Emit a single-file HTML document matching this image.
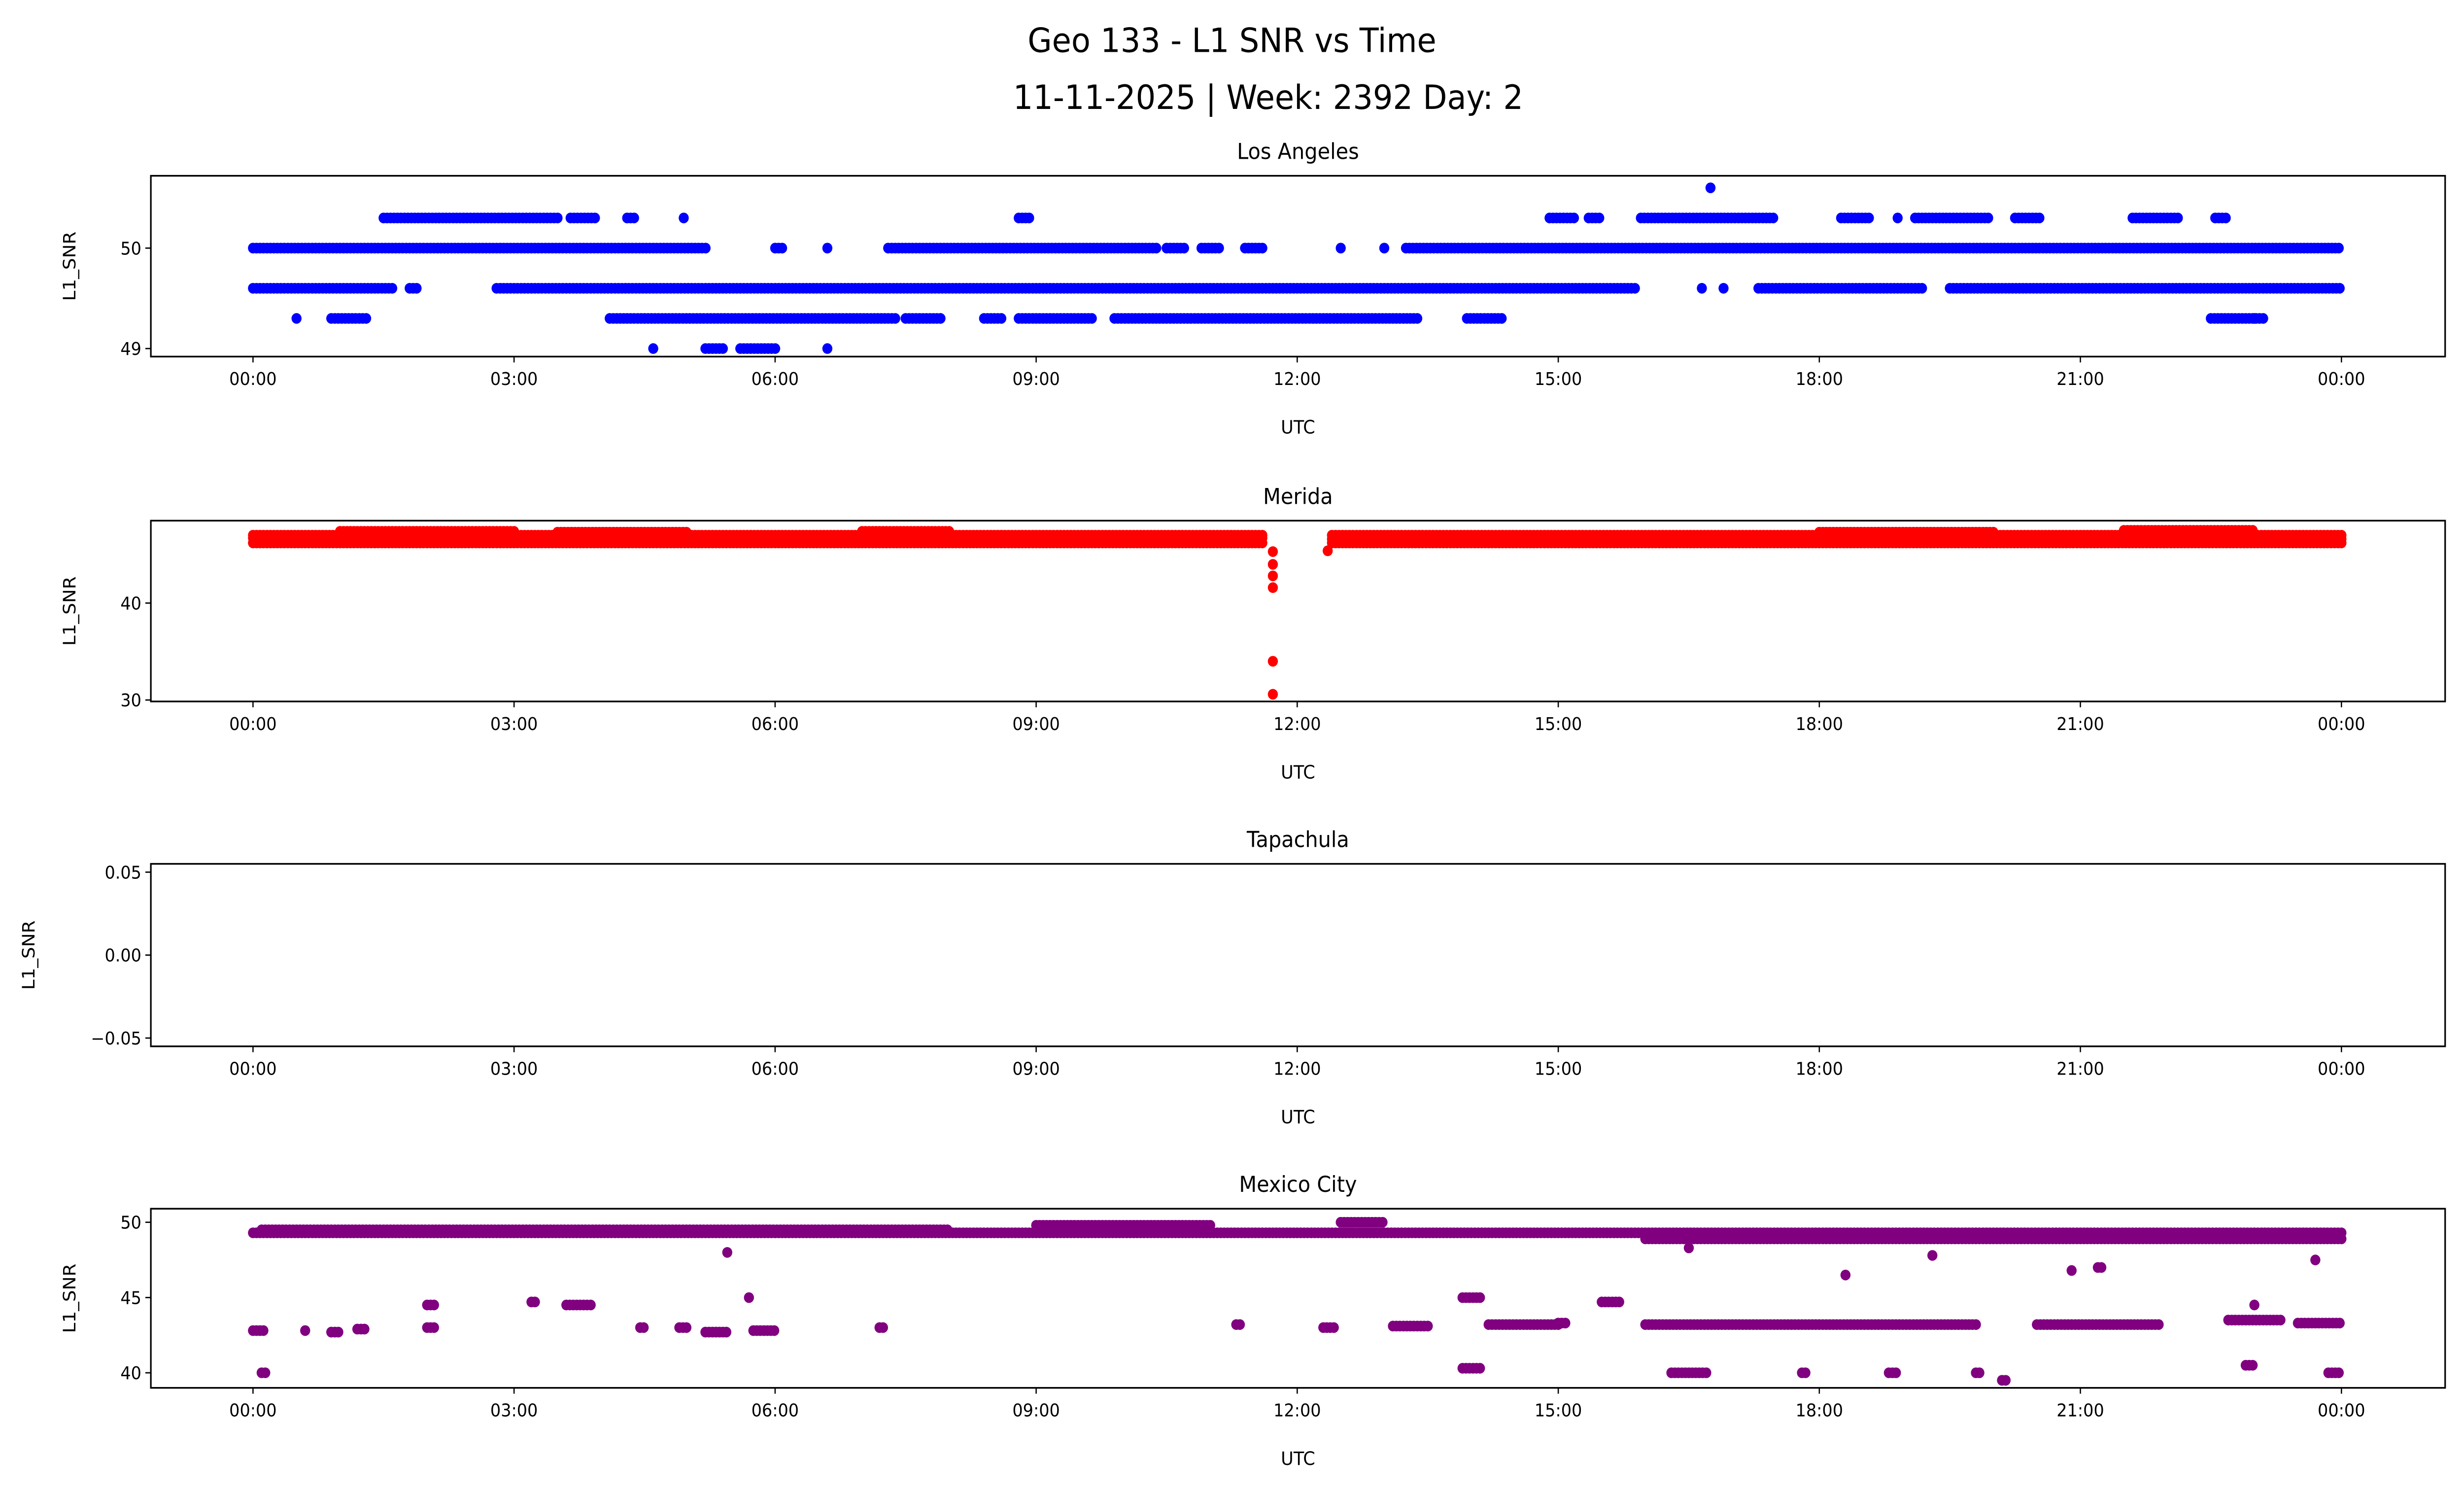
<!DOCTYPE html>
<html><head><meta charset="utf-8"><style>html,body{margin:0;padding:0;background:#fff;overflow:hidden;width:100vw;height:100vh}svg{display:block;width:100vw;height:100vh}text{font-family:"DejaVu Sans","Liberation Sans",sans-serif}</style></head>
<body>
<svg id="fig" xmlns="http://www.w3.org/2000/svg" viewBox="0 0 1568 893" preserveAspectRatio="none">
<rect width="1568" height="893" fill="#fff"/>
<text x="784" y="31" font-size="20" text-anchor="middle">Geo 133 - L1 SNR vs Time</text>
<text x="807" y="65" font-size="20" text-anchor="middle">11-11-2025 | Week: 2392 Day: 2</text>
<g id="plots"></g>
</svg>
<script>
// ---- data (hours UTC, SNR) ----
const xTickLabels = ["00:00","03:00","06:00","09:00","12:00","15:00","18:00","21:00","00:00"];
const xTickHours = [0,3,6,9,12,15,18,21,24];
// Los Angeles runs: start hour, end hour, value
const laStart = [0,6.0,6.6,7.3,10.5,10.9,11.4,12.5,13.0,13.25, 0,1.8,2.8,16.65,16.9,17.3,19.5, 1.5,3.65,4.3,4.95,8.8,14.9,15.35,15.95,18.25,18.9,19.1,20.25,21.6,22.55, 0.5,0.9,4.1,7.5,8.4,8.8,9.9,13.95,22.5,23.0, 4.6,5.2,5.6,6.6, 16.75];
const laEnd   = [5.2,6.1,6.6,10.4,10.7,11.1,11.6,12.5,13.0,24, 1.6,1.9,15.9,16.65,16.9,19.2,24, 3.5,3.95,4.4,4.95,8.95,15.2,15.5,17.5,18.6,18.9,19.95,20.55,22.15,22.7, 0.5,1.3,7.4,7.9,8.6,9.65,13.4,14.35,23.1,23.0, 4.6,5.4,6.0,6.6, 16.75];
const laValue = [50,50,50,50,50,50,50,50,50,50, 49.6,49.6,49.6,49.6,49.6,49.6,49.6, 50.3,50.3,50.3,50.3,50.3,50.3,50.3,50.3,50.3,50.3,50.3,50.3,50.3,50.3, 49.3,49.3,49.3,49.3,49.3,49.3,49.3,49.3,49.3,49.3, 49.0,49.0,49.0,49.0, 50.6];
// Merida runs
const meStart = [0,0,0,1.0,3.5,7.0,12.4,12.4,12.4,18,21.5, 11.72,11.72,11.72,11.72,11.72,11.72, 12.35];
const meEnd   = [11.6,11.6,11.6,3.0,5.0,8.0,24,24,24,20,23.0, 11.72,11.72,11.72,11.72,11.72,11.72, 12.35];
const meValue = [46.2,46.7,47.0,47.4,47.3,47.4,46.2,46.6,47.0,47.3,47.5, 45.3,44.0,42.8,41.6,34.0,30.6, 45.4];
// Tapachula: no data
const tpStart = [], tpEnd = [], tpValue = [];
// Mexico City runs
const mxStart = [0,9.0,16.0,0.1,12.5, 0,0.1,0.6,0.9,1.2,2.0,2.0,3.2,3.6,4.45,4.9,5.2,5.45,5.7,5.75,7.2,11.3,12.3,13.1,13.9,13.9,14.2,15.0,15.5,16.0,16.3,17.8,18.8,19.8,20.1,20.5,21.2,22.7,22.9,23.5,23.85,23.7,16.5,18.3,19.3,20.9,23.0];
const mxEnd   = [24,11.0,24,8.0,13.0, 0.15,0.15,0.6,1.0,1.3,2.1,2.1,3.25,3.9,4.5,5.0,5.45,5.45,5.7,6.0,7.25,11.35,12.45,13.5,14.1,14.1,15.0,15.1,15.7,19.8,16.7,17.85,18.9,19.85,20.15,21.9,21.25,23.3,23.0,24,24,23.7,16.5,18.3,19.3,20.9,23.0];
const mxValue = [49.3,49.8,48.9,49.5,50.0, 42.8,40.0,42.8,42.7,42.9,44.5,43.0,44.7,44.5,43.0,43.0,42.7,48.0,45.0,42.8,43.0,43.2,43.0,43.1,40.3,45.0,43.2,43.3,44.7,43.2,40.0,40.0,40.0,40.0,39.5,43.2,47.0,43.5,40.5,43.3,40.0,47.5,48.3,46.5,47.8,46.8,44.5];

const panels = [
  {name:"Los Angeles", key:"los-angeles", top:105, bot:213, ymin:48.92, ymax:50.72, ticks:[49,50], tl:["49","50"], color:"#0000ff", s:laStart, e:laEnd, v:laValue, ylx:48},
  {name:"Merida", key:"merida", top:311, bot:419, ymin:29.85, ymax:48.5, ticks:[30,40], tl:["30","40"], color:"#ff0000", s:meStart, e:meEnd, v:meValue, ylx:48},
  {name:"Tapachula", key:"tapachula", top:516, bot:625, ymin:-0.055, ymax:0.055, ticks:[-0.05,0,0.05], tl:["\u22120.05","0.00","0.05"], color:"#000", s:tpStart, e:tpEnd, v:tpValue, ylx:22},
  {name:"Mexico City", key:"mexico-city", top:722, bot:829, ymin:39.0, ymax:50.9, ticks:[40,45,50], tl:["40","45","50"], color:"#800080", s:mxStart, e:mxEnd, v:mxValue, ylx:48}
];
const NS = "http://www.w3.org/2000/svg";
const L = 96, R = 1556;
const xOf = h => 161 + h * (1329/24);
const g = document.getElementById("plots");
function mk(tag, attrs, parent, txt){
  const el = document.createElementNS(NS, tag);
  for (const k in attrs) el.setAttribute(k, attrs[k]);
  if (txt !== undefined) el.textContent = txt;
  parent.appendChild(el);
  return el;
}
panels.forEach(p => {
  const yOf = v => p.bot - (v - p.ymin) / (p.ymax - p.ymin) * (p.bot - p.top);
  const pg = mk("g", {}, g);
  
  
  const t = mk("text", {x:(L+R)/2, y:p.top-10, "font-size":"13", "text-anchor":"middle"}, pg, p.name);
  
  
  const pts = mk("g", {fill:p.color}, pg);
  
  
  for (let i = 0; i < p.s.length; i++) {
    const step = 0.04;
    for (let h = p.s[i]; h <= p.e[i] + 1e-9; h += step) {
      const c = mk("circle", {cx:xOf(h).toFixed(1), cy:yOf(p.v[i]).toFixed(1), r:3.2}, pts);
      
      
    }
  }
  const fr = mk("rect", {x:L, y:p.top, width:R-L, height:p.bot-p.top, fill:"none", stroke:"#000", "stroke-width":1}, pg);
  
  
  xTickHours.forEach((h, i) => {
    mk("line", {x1:xOf(h), x2:xOf(h), y1:p.bot, y2:p.bot+3.5, stroke:"#000", "stroke-width":0.8}, pg);
    const tx = mk("text", {x:xOf(h), y:p.bot+17, "font-size":"10.5", "text-anchor":"middle"}, pg, xTickLabels[i]);
    
    
  });
  p.ticks.forEach((v, i) => {
    const y = yOf(v);
    mk("line", {x1:L-3.5, x2:L, y1:y, y2:y, stroke:"#000", "stroke-width":0.8}, pg);
    const ty = mk("text", {x:L-6, y:y+3.8, "font-size":"10.5", "text-anchor":"end"}, pg, p.tl[i]);
    
    
  });
  const xl = mk("text", {x:(L+R)/2, y:p.bot+46, "font-size":"11", "text-anchor":"middle"}, pg, "UTC");
  
  
  const cy = (p.top+p.bot)/2;
  const yl = mk("text", {x:p.ylx, y:cy, "font-size":"11", "text-anchor":"middle", transform:`rotate(-90 ${p.ylx} ${cy})`}, pg, "L1_SNR");
  
  
});
</script>
</body></html>
